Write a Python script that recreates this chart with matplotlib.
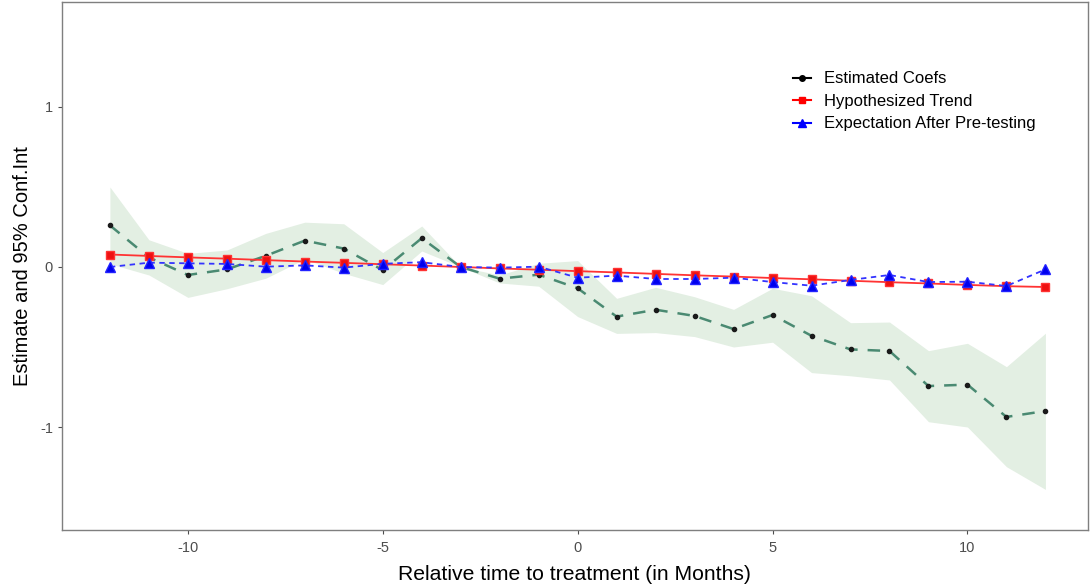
import matplotlib
matplotlib.use("Agg")
import matplotlib.pyplot as plt
from matplotlib.lines import Line2D

# bulan relatif terhadap treatment
months = list(range(-12, 13))

# koefisien estimasi dan interval kepercayaan 95%
coefs = [0.26, 0.06, -0.05, -0.015, 0.07, 0.165, 0.115, -0.02, 0.18, 0.0, -0.073, -0.048, -0.133,
         -0.31, -0.267, -0.306, -0.388, -0.30, -0.43, -0.515, -0.525, -0.744, -0.735, -0.937, -0.90]
ci_upper = [0.50, 0.17, 0.085, 0.106, 0.21, 0.28, 0.27, 0.09, 0.256, 0.0, -0.05, 0.023, 0.04,
            -0.196, -0.127, -0.186, -0.265, -0.133, -0.18, -0.348, -0.344, -0.523, -0.477, -0.623, -0.414]
ci_lower = [0.02, -0.05, -0.19, -0.136, -0.07, 0.05, -0.04, -0.11, 0.10, 0.0, -0.10, -0.12, -0.31,
            -0.415, -0.41, -0.435, -0.50, -0.47, -0.66, -0.68, -0.706, -0.967, -1.0, -1.248, -1.39]

# tren hipotesis
trend = [0.078, 0.069, 0.060, 0.052, 0.043, 0.034, 0.026, 0.017, 0.009, 0.0, -0.009, -0.017, -0.026,
         -0.034, -0.043, -0.052, -0.060, -0.069, -0.077, -0.086, -0.095, -0.103, -0.112, -0.120, -0.125]

# ekspektasi setelah pre-testing
expect = [0.0, 0.027, 0.023, 0.019, 0.002, 0.01, -0.004, 0.02, 0.03, 0.0, -0.004, 0.002, -0.067,
          -0.054, -0.075, -0.075, -0.067, -0.094, -0.117, -0.081, -0.05, -0.094, -0.092, -0.119, -0.015]

plt.rcParams['font.family'] = ['Liberation Sans', 'DejaVu Sans']
plt.rcParams['axes.unicode_minus'] = False

fig = plt.figure(figsize=(10.91, 5.87), dpi=100)
ax = fig.add_axes([0.0568, 0.097, 0.94, 0.8996])

ax.fill_between(months, ci_lower, ci_upper, color="#e3efe3", linewidth=0)
ax.plot(months, coefs, color="#4a8a72", linestyle=(0, (5, 4)), linewidth=1.8, zorder=3)
ax.plot(months, coefs, "o", color="#1a1a1a", markersize=3, zorder=4)
ax.plot(months, trend, color="#ff3333", linewidth=1.3, marker="s", markersize=6,
        markerfacecolor="#ee1111", markeredgecolor="#ff3333", zorder=5)
ax.plot(months, expect, color="#3333ff", linestyle=(0, (3, 2.5)), linewidth=1.3, marker="^",
        markersize=7, markerfacecolor="#0000ee", markeredgecolor="#2222ff", zorder=6)

ax.set_xlim(-13.23, 13.08)
ax.set_ylim(-1.644, 1.656)
ax.set_xticks([-10, -5, 0, 5, 10])
ax.set_yticks([-1, 0, 1])
ax.tick_params(colors="#4d4d4d", labelsize=10.5, length=3, width=0.8)
ax.tick_params(axis="x", pad=5)
for sp in ax.spines.values():
    sp.set_color("#7f7f7f")
    sp.set_linewidth(1.0)

ax.set_xlabel("Relative time to treatment (in Months)", fontsize=15.2, labelpad=7)
ax.set_ylabel("Estimate and 95% Conf.Int", fontsize=14.5, labelpad=6)

handles = [
    Line2D([], [], color="black", marker="o", markersize=4, linewidth=1.5),
    Line2D([], [], color="red", marker="s", markersize=5, linewidth=1.5),
    Line2D([], [], color="blue", marker="^", markersize=5.5, linewidth=1.5),
]
labels = ["Estimated Coefs", "Hypothesized Trend", "Expectation After Pre-testing"]
ax.legend(handles, labels, loc="upper left", bbox_to_anchor=(0.698, 0.897), frameon=False,
          fontsize=12, handlelength=1.08, handletextpad=0.78, labelspacing=0.45)

fig.savefig("out.png", dpi=100)
